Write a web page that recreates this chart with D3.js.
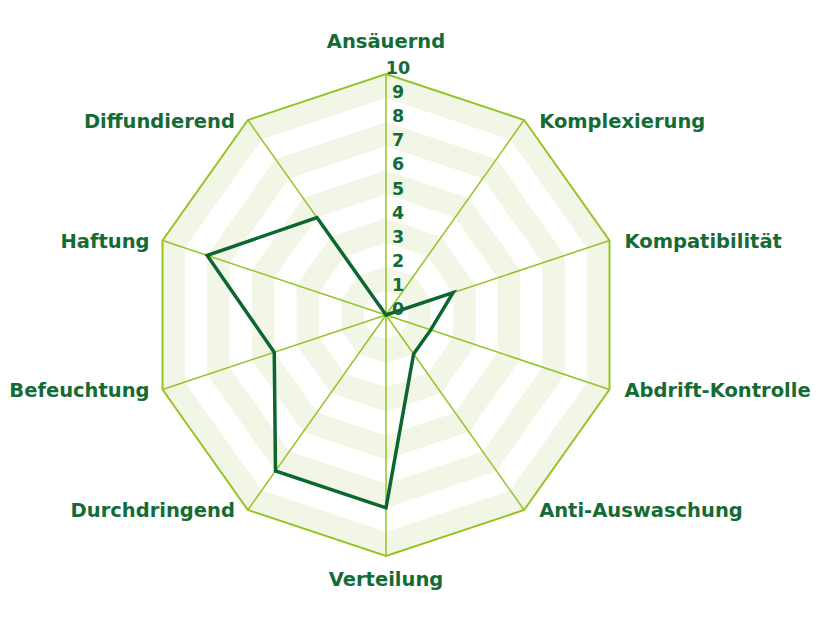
<!DOCTYPE html>
<html>
<head>
<meta charset="utf-8">
<script src="https://cdn.jsdelivr.net/npm/d3@7"></script>
<style>
  body { margin: 0; background: #fff; }
  text { font-family: "DejaVu Sans", sans-serif; font-weight: bold; fill: #156b34; }
</style>
</head>
<body>
<div id="chart"></div>
<script>
// axes, clockwise from top
var categories = ["Ansäuernd", "Komplexierung", "Kompatibilität", "Abdrift-Kontrolle", "Anti-Auswaschung",
                  "Verteilung", "Durchdringend", "Befeuchtung", "Haftung", "Diffundierend"];
var values = [0, 0, 3, 2, 2, 8, 8, 5, 8, 5];
var tickLabels = [0, 1, 2, 3, 4, 5, 6, 7, 8, 9, 10];

var width = 832, height = 624;
var cx = 386, cy = 315;

var svg = d3.select('#chart').append('svg')
  .attr('width', width)
  .attr('height', height);

var g = svg.append('g')
  .attr('transform', 'translate(' + cx + ',' + cy + ')');

// the picture is a little narrower than tall
var rx = d3.scaleLinear().domain([0, 10]).range([0, 235]);
var ry = d3.scaleLinear().domain([0, 10]).range([0, 241]);
var angle = d3.scaleLinear().domain([0, categories.length]).range([0, 2 * Math.PI]);

function pt(i, v) {
  var a = angle(i);
  return [rx(v) * Math.sin(a), -ry(v) * Math.cos(a)];
}

function ring(v) {
  return categories.map(function(c, i){ return pt(i, v); });
}

var line = d3.line().curve(d3.curveLinearClosed);

// alternating bands, outside in
d3.range(10, 0, -1).forEach(function(level){
  g.append('path')
    .attr('d', line(ring(level)))
    .attr('fill', level % 2 === 0 ? '#f2f6e7' : '#ffffff')
    .attr('stroke', 'none');
});

// spokes
g.selectAll('.spoke')
  .data(categories)
  .enter().append('line')
  .attr('class', 'spoke')
  .attr('x1', 0).attr('y1', 0)
  .attr('x2', function(d, i){ return pt(i, 10)[0]; })
  .attr('y2', function(d, i){ return pt(i, 10)[1]; })
  .attr('stroke', '#93c424')
  .attr('stroke-width', 1.5);

// outer edge
g.append('path')
  .attr('d', line(ring(10)))
  .attr('fill', 'none')
  .attr('stroke', '#93c424')
  .attr('stroke-width', 2);

// data
g.append('path')
  .attr('d', line(values.map(function(v, i){ return pt(i, v); })))
  .attr('fill', 'none')
  .attr('stroke', '#0d6630')
  .attr('stroke-width', 3.5)
  .attr('stroke-linejoin', 'miter');

// tick labels up the first spoke
g.selectAll('.tick')
  .data(tickLabels)
  .enter().append('text')
  .attr('class', 'tick')
  .attr('x', 12)
  .attr('y', function(d){ return -ry(d) - 5; })
  .attr('text-anchor', 'middle')
  .attr('dominant-baseline', 'middle')
  .style('font-size', '17.5px')
  .text(function(d){ return d; });

// axis labels
g.selectAll('.cat')
  .data(categories)
  .enter().append('text')
  .attr('class', 'cat')
  .style('font-size', '19.5px')
  .each(function(d, i){
    var p = pt(i, 10);
    var s = Math.sin(angle(i));
    var c = Math.cos(angle(i));
    var t = d3.select(this).text(d);
    if (Math.abs(s) < 0.01) {
      t.attr('text-anchor', 'middle')
        .attr('x', p[0])
        .attr('y', c > 0 ? p[1] - 26 : p[1] + 30);
    } else {
      t.attr('text-anchor', s > 0 ? 'start' : 'end')
        .attr('x', p[0] + (s > 0 ? 15 : -13))
        .attr('y', p[1] + 2)
        .attr('dominant-baseline', 'middle');
    }
  });
</script>
</body>
</html>
